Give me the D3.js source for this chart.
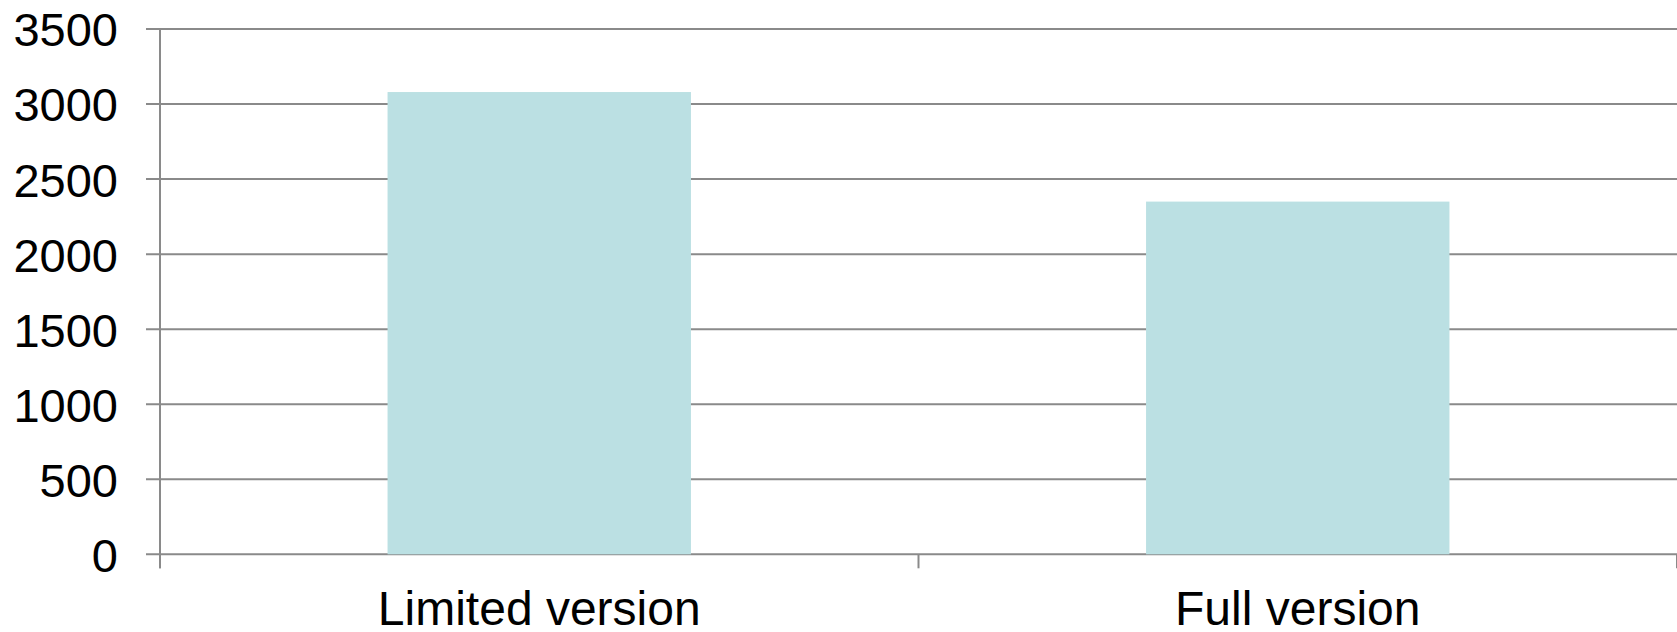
<!DOCTYPE html>
<html>
<head>
<meta charset="utf-8">
<script src="https://cdn.jsdelivr.net/npm/d3@7"></script>
<style>
  html, body { margin: 0; padding: 0; background: #ffffff; }
  svg { display: block; }
</style>
</head>
<body>
<svg id="chart" width="1677" height="632"></svg>
<script>
// Chart data
const categories = ["Limited version", "Full version"];
const values = [3080, 2350];
const yTicks = [0, 500, 1000, 1500, 2000, 2500, 3000, 3500];

const W = 1677, H = 632;
const margin = { left: 160, right: 0, top: 29, bottom: 632 - 554.3 };
const plotW = W - margin.left - margin.right;
const plotH = H - margin.top - margin.bottom;

const gridColor = "#8a8a8a";
const barColor = "#bbe0e3";
const font = "'Liberation Sans', Arial, sans-serif";

const svg = d3.select("#chart");
const g = svg.append("g").attr("transform", `translate(${margin.left},${margin.top})`);

const x = d3.scaleBand().domain(categories).range([0, plotW]).padding(0);
const y = d3.scaleLinear().domain([0, 3500]).range([plotH, 0]);

// Horizontal gridlines (extend left past the axis as tick marks)
g.append("g").selectAll("line")
  .data(yTicks)
  .join("line")
  .attr("x1", -14).attr("x2", plotW)
  .attr("y1", d => y(d)).attr("y2", d => y(d))
  .attr("stroke", gridColor).attr("stroke-width", 2);

// Bars: 40% of each category band, centred
const barW = x.bandwidth() * 0.4;
g.append("g").selectAll("rect")
  .data(categories.map((c, i) => ({ c, v: values[i] })))
  .join("rect")
  .attr("x", d => x(d.c) + (x.bandwidth() - barW) / 2)
  .attr("width", barW)
  .attr("y", d => y(d.v))
  .attr("height", d => y(0) - y(d.v))
  .attr("fill", barColor);

// Y axis labels
const yAxis = g.append("g")
  .call(d3.axisLeft(y).tickValues(yTicks).tickSize(14).tickPadding(28).tickFormat(d3.format("d")));
yAxis.select(".domain").remove();
yAxis.selectAll(".tick line").remove();
yAxis.selectAll("text")
  .attr("font-family", font).attr("font-size", 47).attr("fill", "#000")
  .attr("dy", "0.36em");

// Vertical axis line
g.append("line")
  .attr("x1", 0).attr("x2", 0)
  .attr("y1", y(3500)).attr("y2", plotH + 14)
  .attr("stroke", gridColor).attr("stroke-width", 2);

// Category boundary ticks on the x axis
const boundaries = categories.map(c => x(c)).concat([x(categories[categories.length - 1]) + x.bandwidth()]);
g.append("g").selectAll("line")
  .data(boundaries)
  .join("line")
  .attr("x1", d => d).attr("x2", d => d)
  .attr("y1", plotH).attr("y2", plotH + 14)
  .attr("stroke", gridColor).attr("stroke-width", 2);

// X axis labels
const xAxis = g.append("g")
  .attr("transform", `translate(0,${plotH})`)
  .call(d3.axisBottom(x).tickSize(0).tickPadding(37));
xAxis.select(".domain").remove();
xAxis.selectAll("text")
  .attr("font-family", font).attr("font-size", 48).attr("fill", "#000");
</script>
</body>
</html>
